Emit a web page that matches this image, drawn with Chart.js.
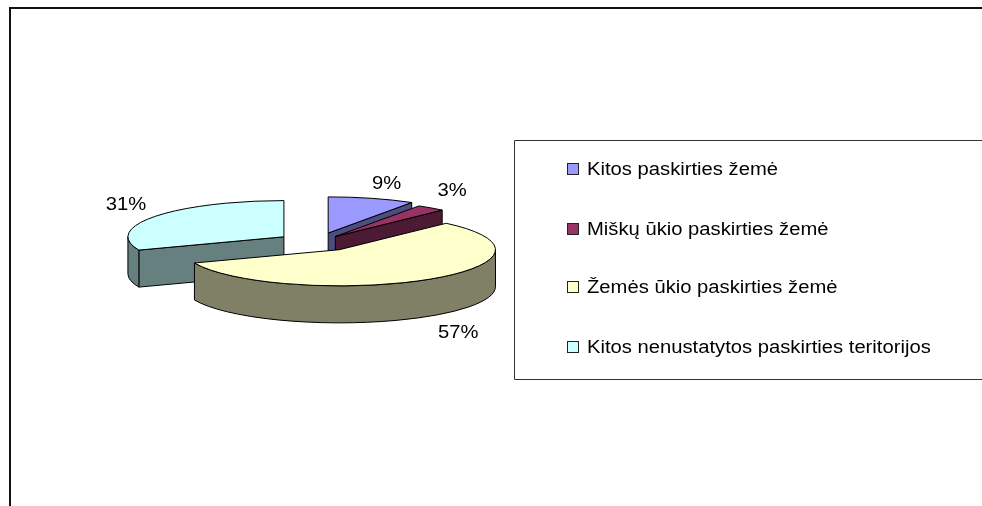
<!DOCTYPE html>
<html>
<head>
<meta charset="utf-8">
<style>
  html, body { margin: 0; background: #fff; }
  canvas { display: block; }
</style>
<script src="https://cdn.jsdelivr.net/npm/chart.js@4/dist/chart.umd.js"></script>
</head>
<body>
<canvas id="pie" width="982" height="506"></canvas>
<script>
const categories = ['Kitos paskirties žemė', 'Miškų ūkio paskirties žemė', 'Žemės ūkio paskirties žemė', 'Kitos nenustatytos paskirties teritorijos'];
const shares = [9, 3, 57, 31];
const topColors = ['#9999FF', '#993366', '#FFFFCC', '#CCFFFF'];
const wallColors = ['#4D4D80', '#4D1A33', '#808066', '#668080'];

// look of the 3D pie
const flatten = 0.232;
const depth = 37;
const explode = [40, 30, 40, 40];
const labelNudge = [[15, -15], [21, -18], [31, 16], [-29, -12]];
const font = '17.5px "Liberation Sans"';
const textStretch = 1.155;

function center(arc, i) {
    const mid = (arc.startAngle + arc.endAngle) / 2;
    return {
        x: arc.x + Math.cos(mid) * explode[i],
        y: arc.y + Math.sin(mid) * explode[i] * flatten
    };
}

// the reference text is wider than the plain font, so stretch it sideways
function wideText(ctx, text, x, y) {
    ctx.save();
    ctx.translate(x, y + 1);
    ctx.scale(textStretch, 1);
    ctx.fillText(text, 0, 0);
    ctx.restore();
}

function drawWall(ctx, arc, i) {
    const c = center(arc, i);
    const r = arc.outerRadius;
    const ry = r * flatten;
    ctx.fillStyle = wallColors[i];
    ctx.strokeStyle = '#000';
    ctx.lineWidth = 1;

    // the flat cut faces, only those turned to the viewer
    const cutFaces = [];
    if (Math.cos(arc.startAngle) < -1e-6) cutFaces.push(arc.startAngle);
    if (Math.cos(arc.endAngle) > 1e-6) cutFaces.push(arc.endAngle);
    cutFaces.forEach(a => {
        const px = c.x + Math.cos(a) * r;
        const py = c.y + Math.sin(a) * ry;
        ctx.beginPath();
        ctx.moveTo(c.x, c.y);
        ctx.lineTo(px, py);
        ctx.lineTo(px, py + depth);
        ctx.lineTo(c.x, c.y + depth);
        ctx.closePath();
        ctx.fill();
        ctx.stroke();
    });

    // the rim, front half of the ellipse only
    const from = Math.max(arc.startAngle, 0);
    const to = Math.min(arc.endAngle, Math.PI);
    if (to > from) {
        ctx.beginPath();
        ctx.ellipse(c.x, c.y, r, ry, 0, from, to);
        ctx.ellipse(c.x, c.y + depth, r, ry, 0, to, from, true);
        ctx.closePath();
        ctx.fill();
        ctx.stroke();
    }
}

function drawTop(ctx, arc, i) {
    const c = center(arc, i);
    const r = arc.outerRadius;

    // fill comes from the library's arc, squashed into an ellipse
    ctx.save();
    ctx.translate(c.x, c.y);
    ctx.scale(1, flatten);
    ctx.translate(-arc.x, -arc.y);
    arc.draw(ctx);
    ctx.restore();

    ctx.beginPath();
    ctx.moveTo(c.x, c.y);
    ctx.ellipse(c.x, c.y, r, r * flatten, 0, arc.startAngle, arc.endAngle);
    ctx.closePath();
    ctx.strokeStyle = '#000';
    ctx.lineWidth = 1;
    ctx.stroke();
}

const pie3d = {
    id: 'pie3d',
    beforeDraw(chart) {
        const ctx = chart.ctx;
        ctx.save();
        // outer frame, open at the right and bottom
        ctx.strokeStyle = '#111';
        ctx.lineWidth = 2;
        ctx.beginPath();
        ctx.moveTo(10, 506);
        ctx.lineTo(10, 8);
        ctx.lineTo(982, 8);
        ctx.stroke();
        // legend box
        ctx.strokeStyle = '#333';
        ctx.lineWidth = 1;
        ctx.beginPath();
        ctx.moveTo(982, 140.5);
        ctx.lineTo(514.5, 140.5);
        ctx.lineTo(514.5, 379.5);
        ctx.lineTo(982, 379.5);
        ctx.stroke();
        ctx.restore();
    },
    beforeDatasetDraw(chart, args) {
        const ctx = chart.ctx;
        const arcs = args.meta.data;
        ctx.save();
        // back to front
        [3, 0, 1, 2].forEach(i => drawWall(ctx, arcs[i], i));
        arcs.forEach((arc, i) => drawTop(ctx, arc, i));
        ctx.restore();
        return false;
    },
    afterDraw(chart) {
        const ctx = chart.ctx;
        const arcs = chart.getDatasetMeta(0).data;
        ctx.save();
        ctx.font = font;
        ctx.fillStyle = '#000';
        ctx.textBaseline = 'middle';

        // percent labels around the slices
        ctx.textAlign = 'center';
        arcs.forEach((arc, i) => {
            const c = center(arc, i);
            const mid = (arc.startAngle + arc.endAngle) / 2;
            const front = Math.sin(mid) > 0 ? depth : 0;
            const x = c.x + Math.cos(mid) * arc.outerRadius + labelNudge[i][0];
            const y = c.y + Math.sin(mid) * arc.outerRadius * flatten + front + labelNudge[i][1];
            wideText(ctx, shares[i] + '%', x, y);
        });

        // legend
        const rows = [169, 229, 287, 347];
        ctx.textAlign = 'left';
        categories.forEach((name, i) => {
            ctx.fillStyle = topColors[i];
            ctx.strokeStyle = '#222';
            ctx.fillRect(568, rows[i] - 5, 10, 10);
            ctx.strokeRect(567.5, rows[i] - 5.5, 11, 11);
            ctx.fillStyle = '#000';
            wideText(ctx, name, 587, rows[i]);
        });
        ctx.restore();
    }
};

new Chart(document.getElementById('pie'), {
    type: 'pie',
    data: {
        labels: categories,
        datasets: [{
            data: shares,
            backgroundColor: topColors,
            borderWidth: 0
        }]
    },
    options: {
        responsive: false,
        animation: false,
        radius: 156,
        layout: { padding: { left: 0, top: 0, right: 348, bottom: 22 } },
        plugins: {
            legend: { display: false },
            tooltip: { enabled: false }
        }
    },
    plugins: [pie3d]
});
</script>
</body>
</html>
